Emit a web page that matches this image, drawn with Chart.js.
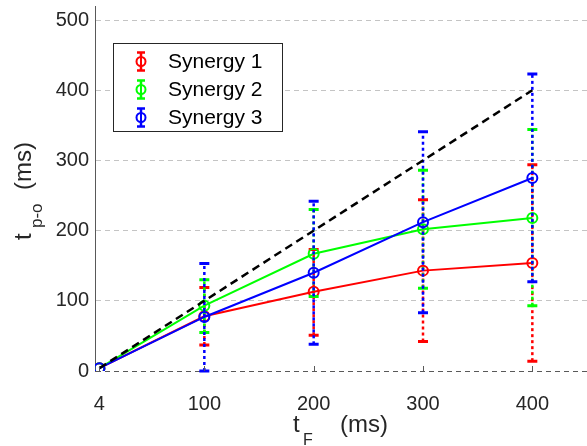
<!DOCTYPE html>
<html>
<head>
<meta charset="utf-8">
<script src="https://cdn.jsdelivr.net/npm/chart.js@4/dist/chart.umd.min.js"></script>
<style>
  html, body { margin: 0; padding: 0; background: #fff; }
  canvas { display: block; }
</style>
</head>
<body>
<canvas id="grafico" width="587" height="446"></canvas>
<script>
// valores de tF (ms)
const tF = [4, 100, 200, 300, 400];
const xTicks = [4, 100, 200, 300, 400];
const yTicks = [0, 100, 200, 300, 400, 500];

// médias de tp-o por sinergia
const sinergia1 = [4, 78, 113, 143, 154];
const sinergia2 = [4, 93, 167, 202, 218];
const sinergia3 = [4, 77, 140, 212, 275];

// extremos das barras de erro (inferior / superior)
const sinergia1Min = [4, 37, 51, 42, 14];
const sinergia1Max = [4, 119, 173, 244, 294];
const sinergia2Min = [4, 55, 106, 118, 93];
const sinergia2Max = [4, 130, 230, 286, 344];
const sinergia3Min = [4, 0, 38, 83, 127];
const sinergia3Max = [4, 153, 242, 341, 423];

// reta identidade tp-o = tF
const identidadeX = [4, 400];
const identidadeY = [4, 400];

const nomes = ['Synergy 1', 'Synergy 2', 'Synergy 3'];
const cores = ['#ff0000', '#00ff00', '#0000ff'];

const FONTE = '"Liberation Sans", Arial, sans-serif';

const pontos = (xs, ys) => xs.map((x, i) => ({ x: x, y: ys[i] }));

const barrasErro = {
    0: { min: sinergia1Min, max: sinergia1Max },
    1: { min: sinergia2Min, max: sinergia2Max },
    2: { min: sinergia3Min, max: sinergia3Max }
};

// desenha as barras de erro de cada série antes da própria linha
const pluginBarras = {
    id: 'barrasErro',
    beforeDatasetDraw(chart, args) {
        const barras = barrasErro[args.index];
        if (!barras) return;
        const ctx = chart.ctx;
        const xs = chart.scales.x, ys = chart.scales.y;
        const cor = cores[args.index];
        ctx.save();
        tF.forEach((t, j) => {
            const px = xs.getPixelForValue(t);
            const yLo = ys.getPixelForValue(barras.min[j]);
            const yHi = ys.getPixelForValue(barras.max[j]);
            if (Math.abs(yLo - yHi) < 1) return;
            ctx.strokeStyle = cor;
            ctx.lineWidth = 2.5;
            ctx.setLineDash([3, 3]);
            ctx.beginPath();
            ctx.moveTo(px, yLo);
            ctx.lineTo(px, yHi);
            ctx.stroke();
            ctx.setLineDash([]);
            ctx.lineWidth = 3;
            ctx.beginPath();
            ctx.moveTo(px - 5, yLo); ctx.lineTo(px + 5, yLo);
            ctx.moveTo(px - 5, yHi); ctx.lineTo(px + 5, yHi);
            ctx.stroke();
        });
        ctx.restore();
    }
};

// marcas do eixo x, títulos com subscrito e legenda
const pluginEixos = {
    id: 'eixos',
    afterDraw(chart) {
        const ctx = chart.ctx;
        const area = chart.chartArea;
        const xs = chart.scales.x;
        ctx.save();

        // marcas do eixo x
        ctx.strokeStyle = '#595959';
        ctx.lineWidth = 1;
        ctx.beginPath();
        xTicks.forEach(v => {
            const px = Math.round(xs.getPixelForValue(v)) + 0.5;
            ctx.moveTo(px, area.bottom);
            ctx.lineTo(px, area.bottom - 5);
        });
        ctx.stroke();

        // título do eixo x: t_F (ms)
        const cx = (area.left + area.right) / 2;
        ctx.fillStyle = '#262626';
        ctx.textBaseline = 'alphabetic';
        ctx.textAlign = 'left';
        ctx.font = '24px ' + FONTE;
        ctx.fillText('t', cx - 48, 432);
        ctx.fillText('(ms)', cx - 1, 432);
        ctx.font = '16px ' + FONTE;
        ctx.fillText('F', cx - 38, 445);

        // título do eixo y: t_p-o (ms)
        ctx.save();
        ctx.translate(31, 240);
        ctx.rotate(-Math.PI / 2);
        ctx.font = '24px ' + FONTE;
        ctx.fillText('t', 0, 0);
        ctx.fillText('(ms)', 50, 0);
        ctx.font = '17px ' + FONTE;
        ctx.fillText('p-o', 12, 11);
        ctx.restore();

        // legenda
        const bx = 113.5, by = 43.5, bw = 169, bh = 88;
        ctx.fillStyle = '#ffffff';
        ctx.fillRect(bx, by, bw, bh);
        ctx.strokeStyle = '#262626';
        ctx.lineWidth = 1;
        ctx.strokeRect(bx, by, bw, bh);
        nomes.forEach((nome, i) => {
            const cy = 61.5 + i * 28;
            const ix = 141;
            ctx.strokeStyle = cores[i];
            ctx.lineWidth = 2.5;
            ctx.beginPath();
            ctx.moveTo(ix, cy - 9); ctx.lineTo(ix, cy + 9);
            ctx.moveTo(ix - 4, cy - 9); ctx.lineTo(ix + 4, cy - 9);
            ctx.moveTo(ix - 4, cy + 9); ctx.lineTo(ix + 4, cy + 9);
            ctx.stroke();
            ctx.lineWidth = 2;
            ctx.fillStyle = '#ffffff';
            ctx.beginPath();
            ctx.arc(ix, cy, 4.5, 0, Math.PI * 2);
            ctx.fill();
            ctx.stroke();
            ctx.beginPath();
            ctx.moveTo(ix, cy - 4.5); ctx.lineTo(ix, cy + 4.5);
            ctx.stroke();
            ctx.fillStyle = '#000000';
            ctx.font = '21px ' + FONTE;
            ctx.textBaseline = 'middle';
            ctx.fillText(nome, 168, cy + 1);
        });
        ctx.restore();
    }
};

const serie = (i, ys) => ({
    label: nomes[i],
    data: pontos(tF, ys),
    borderColor: cores[i],
    borderWidth: 2,
    pointStyle: 'circle',
    pointRadius: 5,
    pointBorderWidth: 2,
    pointBorderColor: cores[i],
    pointBackgroundColor: 'rgba(0,0,0,0)',
    tension: 0,
    order: 3 - i
});

new Chart(document.getElementById('grafico'), {
    type: 'line',
    data: {
        datasets: [
            serie(0, sinergia1),
            serie(1, sinergia2),
            serie(2, sinergia3),
            {
                label: 'identidade',
                data: pontos(identidadeX, identidadeY),
                borderColor: '#000000',
                borderWidth: 2.5,
                borderDash: [8, 5],
                pointRadius: 0,
                order: 0
            }
        ]
    },
    options: {
        responsive: false,
        animation: false,
        layout: { autoPadding: false, padding: { top: 6, right: 0, left: 0, bottom: 0 } },
        plugins: { legend: { display: false }, tooltip: { enabled: false } },
        scales: {
            x: {
                type: 'linear',
                min: 0,
                max: 450,
                afterBuildTicks: s => { s.ticks = xTicks.map(v => ({ value: v })); },
                afterFit: s => { s.height = 75; s.paddingLeft = 0; s.paddingRight = 0; },
                grid: { display: false },
                border: { display: false },
                ticks: {
                    color: '#262626',
                    font: { family: FONTE, size: 20 },
                    padding: 13,
                    maxRotation: 0,
                    autoSkip: false
                }
            },
            y: {
                type: 'linear',
                min: 0,
                max: 520,
                afterBuildTicks: s => { s.ticks = yTicks.map(v => ({ value: v })); },
                afterFit: s => { s.width = 95; s.paddingTop = 0; s.paddingBottom = 0; },
                grid: {
                    drawTicks: false,
                    color: c => (c.tick && c.tick.value === 0) ? '#595959' : '#c4c4c4',
                    lineWidth: 1
                },
                border: { display: true, color: '#595959', width: 1, dash: [5, 4] },
                ticks: {
                    color: '#262626',
                    font: { family: FONTE, size: 20 },
                    padding: 6
                }
            }
        }
    },
    plugins: [pluginBarras, pluginEixos]
});
</script>
</body>
</html>
